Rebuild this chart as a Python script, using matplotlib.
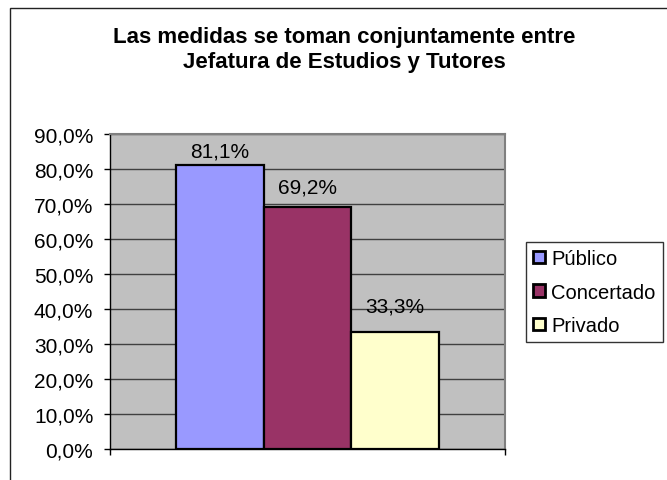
import matplotlib
matplotlib.use("Agg")
import matplotlib.pyplot as plt
from matplotlib.patches import Rectangle
from matplotlib.ticker import FuncFormatter

plt.rcParams['font.family'] = ['Liberation Sans', 'DejaVu Sans']

# Data
categories = ['Público', 'Concertado', 'Privado']
values = [81.1, 69.2, 33.3]
colors = ['#9999FF', '#993366', '#FFFFCC']
title = 'Las medidas se toman conjuntamente entre\nJefatura de Estudios y Tutores'
label_offsets = [10, 14, 19]  # points above each bar, as Excel placed them

fig = plt.figure(figsize=(6.67, 4.81), dpi=100)

# outer chart frame (runs off the right and bottom edges)
fig.patches.append(Rectangle((10 / 667, -0.1), 1.0, 1 - 9 / 481 + 0.1,
                             transform=fig.transFigure, fill=False,
                             edgecolor='#222222', linewidth=1.0, clip_on=False))

ax = fig.add_axes([110 / 667, 1 - 450 / 481, 395 / 667, 315 / 481])
ax.set_facecolor('#C0C0C0')

width = 2 / 9
xs = [1 / 6 + width * (i + 0.5) for i in range(len(values))]
bars = ax.bar(xs, values, width=width, color=colors, edgecolor='black',
              linewidth=1.6, label=categories, zorder=3)

for x, v, off in zip(xs, values, label_offsets):
    ax.annotate(f'{v:.1f}%'.replace('.', ','), (x, v), xytext=(0, off),
                textcoords='offset points', ha='center', va='center',
                fontsize=15, zorder=4)

ax.set_xlim(0, 1)
ax.set_ylim(0, 90)
ax.set_yticks(range(0, 91, 10))
ax.yaxis.set_major_formatter(FuncFormatter(lambda v, p: f'{v:.1f}%'.replace('.', ',')))
ax.set_xticks([0, 1])
ax.set_xticklabels([])
ax.tick_params(axis='y', labelsize=15, length=4.5, width=1, direction='out', pad=7.5)
ax.tick_params(axis='x', length=4.5, width=1, direction='out')
ax.grid(axis='y', color='#404040', linewidth=1.0, zorder=1)
ax.set_axisbelow(True)

for side in ['top', 'right']:
    ax.spines[side].set_color('#808080')
    ax.spines[side].set_linewidth(1.5)
for side in ['left', 'bottom']:
    ax.spines[side].set_color('black')
    ax.spines[side].set_linewidth(1.0)

fig.text(344 / 667, 1 - 50 / 481, title, ha='center', va='center',
         fontsize=16, fontweight='bold', linespacing=1.25)

leg = fig.legend(bars, categories, loc='upper left',
                 bbox_to_anchor=(526 / 667, 1 - 243 / 481),
                 fontsize=14.5, frameon=True, fancybox=False,
                 handlelength=0.6, handleheight=0.6, handletextpad=0.3,
                 labelspacing=0.72, borderpad=0.35, borderaxespad=0)
leg.get_frame().set_edgecolor('black')
leg.get_frame().set_linewidth(1.0)
for h in leg.legend_handles:
    h.set_linewidth(2.0)

fig.savefig('out.png', dpi=100)
